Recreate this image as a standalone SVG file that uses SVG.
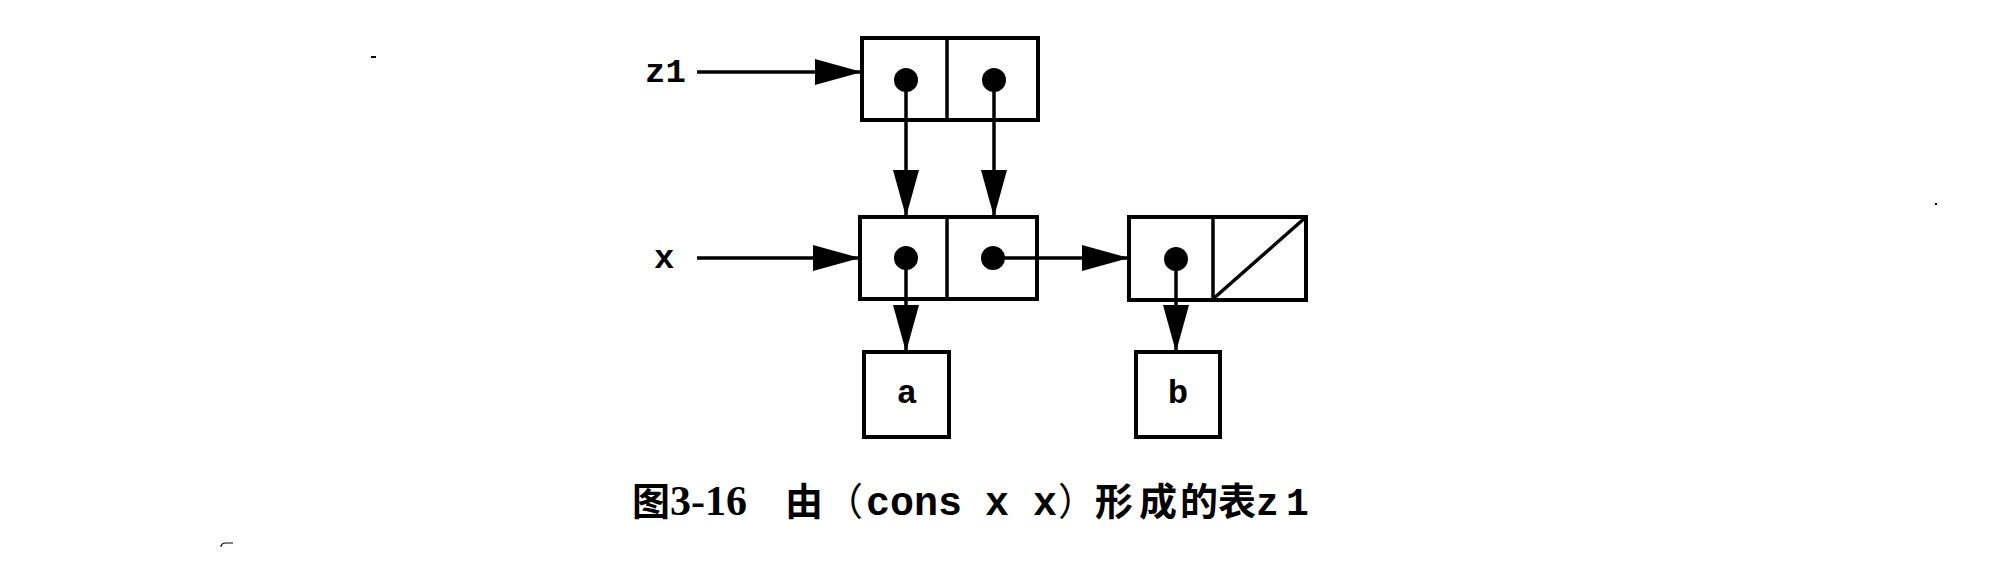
<svg xmlns="http://www.w3.org/2000/svg" width="2002" height="568" viewBox="0 0 2002 568">
<style>
.box{fill:#fff;stroke:#000;stroke-width:4}
.div{stroke:#000;stroke-width:3.5;fill:none}
.dot{fill:#000}
.edge{stroke:#000;stroke-width:3.5;fill:none;marker-end:url(#ah)}
.mono{font-family:"Liberation Mono","DejaVu Sans Mono",monospace;font-weight:bold;font-size:34px;fill:#000}
.cjk{font-family:"Noto Sans CJK SC","Noto Sans CJK JP",sans-serif;font-weight:bold;font-size:38px;fill:#000}
.par{font-family:"Noto Sans CJK JP","Noto Sans CJK SC",sans-serif;font-weight:normal;font-size:38px;fill:#000}
.ser{font-family:"Liberation Serif","DejaVu Serif",serif;font-weight:bold;font-size:42px;fill:#000}
.cm{font-family:"Liberation Mono","DejaVu Sans Mono",monospace;font-weight:bold;font-size:40px;fill:#000}
.cz{font-family:"Liberation Mono","DejaVu Sans Mono",monospace;font-weight:bold;font-size:38px;fill:#000}
</style>
<defs>
<marker id="ah" markerUnits="userSpaceOnUse" markerWidth="50" markerHeight="30" refX="47" refY="13" orient="auto">
<path d="M0,0 L47,13 L0,26 Z" fill="#000"/>
</marker>
</defs>
<rect width="2002" height="568" fill="#fff"/>
<g id="label-z1"><text class="mono" x="645" y="82">z1</text></g>
<g id="label-x"><text class="mono" x="654" y="268">x</text></g>
<g id="cell-z1">
<rect class="box" x="862" y="38" width="176" height="82"/>
<line class="div" x1="947" y1="38" x2="947" y2="120"/>
<circle class="dot" cx="906" cy="80" r="12"/>
<circle class="dot" cx="994" cy="80" r="12"/>
</g>
<g id="cell-x">
<rect class="box" x="860" y="217" width="177" height="82"/>
<line class="div" x1="947" y1="217" x2="947" y2="299"/>
<circle class="dot" cx="906" cy="258" r="12"/>
<circle class="dot" cx="993" cy="258" r="12"/>
</g>
<g id="cell-b">
<rect class="box" x="1129" y="217" width="177" height="83"/>
<line class="div" x1="1213" y1="217" x2="1213" y2="300"/>
<line class="div" x1="1213" y1="299" x2="1306" y2="217"/>
<circle class="dot" cx="1176" cy="259" r="12"/>
</g>
<g id="atom-a">
<rect class="box" x="864" y="352" width="85" height="85"/>
<text class="mono" x="907" y="403" text-anchor="middle">a</text>
</g>
<g id="atom-b">
<rect class="box" x="1136" y="352" width="84" height="85"/>
<text class="mono" x="1178" y="403" text-anchor="middle">b</text>
</g>
<g id="connectors">
<line class="edge" x1="697" y1="72" x2="862" y2="72"/>
<line class="edge" x1="697" y1="258" x2="860" y2="258"/>
<line class="edge" x1="906" y1="80" x2="906" y2="217"/>
<line class="edge" x1="994" y1="80" x2="994" y2="217"/>
<line class="edge" x1="906" y1="258" x2="906" y2="352"/>
<line class="edge" x1="993" y1="258" x2="1129" y2="258"/>
<line class="edge" x1="1176" y1="259" x2="1176" y2="352"/>
</g>
<g id="caption">
<text y="515"><tspan class="cjk" x="632">图</tspan><tspan class="ser" x="670">3-16</tspan><tspan class="cjk" x="785">由</tspan><tspan class="par" x="825">（</tspan><tspan class="cm" x="866">cons</tspan><tspan class="cm" x="985">x</tspan><tspan class="cm" x="1033">x</tspan><tspan class="par" x="1058">）</tspan><tspan class="cjk" x="1095 1139 1180 1218">形成的表</tspan><tspan class="cz" x="1256 1286">z1</tspan></text>
</g>
<g id="specks" fill="#000">
<rect x="371" y="56" width="5" height="2"/>
<path d="M221,547 Q221,543 226,543 L233,543" stroke="#000" stroke-width="1.2" fill="none"/>
<rect x="1935" y="203" width="2" height="2"/>
</g>
</svg>
